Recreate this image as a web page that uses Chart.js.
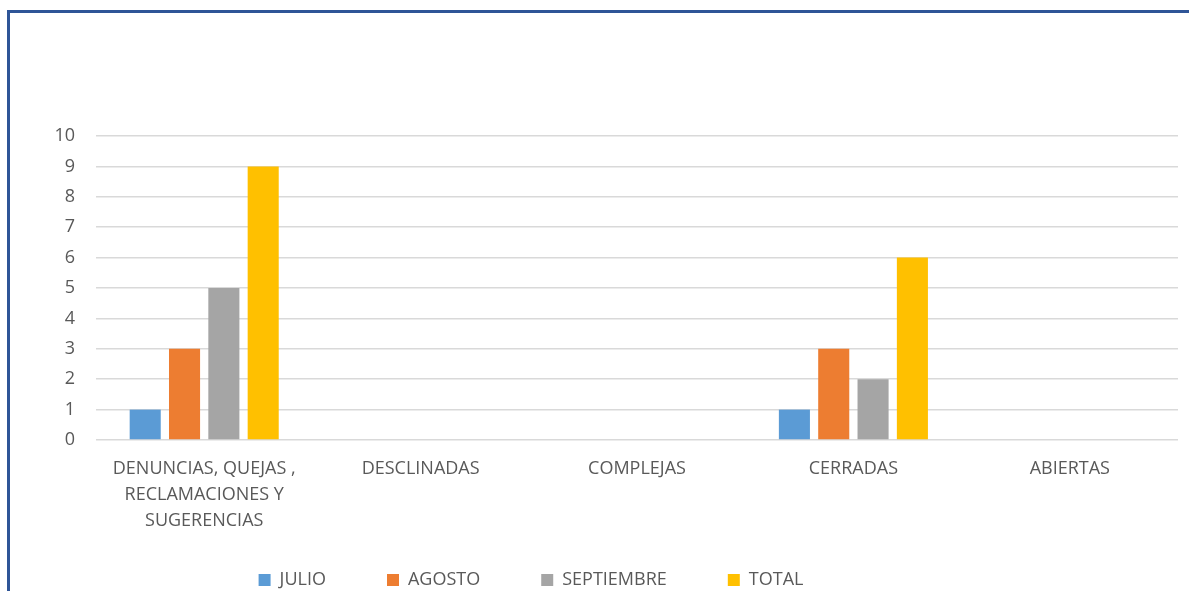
<!DOCTYPE html>
<html>
<head>
<meta charset="utf-8">
<script src="https://cdn.jsdelivr.net/npm/chart.js@4"></script>
<style>
    html, body { margin: 0; padding: 0; background: #ffffff; }
    body { width: 1189px; height: 591px; position: relative; overflow: hidden; }
    #marco {
        position: absolute; left: 7px; top: 10px; right: -10px; bottom: -10px;
        border-top: 3px solid #2F5597; border-left: 3px solid #2F5597;
    }
    #contenedor { position: absolute; left: 0; top: 0; width: 1189px; height: 591px; }
</style>
</head>
<body>
<div id="marco"></div>
<div id="contenedor"><canvas id="grafica"></canvas></div>
<script>
// Datos de la gráfica
var categorias = [
    ['DENUNCIAS, QUEJAS ,', 'RECLAMACIONES Y', 'SUGERENCIAS'],
    'DESCLINADAS',
    'COMPLEJAS',
    'CERRADAS',
    'ABIERTAS'
];
var julio = [1, 0, 0, 1, 0];
var agosto = [3, 0, 0, 3, 0];
var septiembre = [5, 0, 0, 2, 0];
var total = [9, 0, 0, 6, 0];
var ticksY = [0, 1, 2, 3, 4, 5, 6, 7, 8, 9, 10];

var colorTexto = '#595959';
var fuente = { family: "'Open Sans', sans-serif", size: 18 };

function serie(label, data, color) {
    return {
        label: label,
        data: data,
        backgroundColor: color,
        borderWidth: 0,
        categoryPercentage: 0.727,
        barPercentage: 0.79
    };
}

// Ajuste de la leyenda: alto fijo, subida y desplazada a la izquierda como en el original
var ajusteLeyenda = {
    id: 'ajusteLeyenda',
    beforeLayout: function (chart) {
        var leyenda = chart.legend;
        if (leyenda && !leyenda._ajustada) {
            var fitOriginal = leyenda.fit;
            leyenda.fit = function () {
                fitOriginal.call(this);
                this.height = 57;
            };
            leyenda._ajustada = true;
        }
    },
    afterLayout: function (chart) {
        chart.legend.left -= 116;
        chart.legend.top -= 24;
    }
};

var ctx = document.getElementById('grafica').getContext('2d');
var grafica = new Chart(ctx, {
    type: 'bar',
    data: {
        labels: categorias,
        datasets: [
            serie('JULIO', julio, '#5B9BD5'),
            serie('AGOSTO', agosto, '#ED7D31'),
            serie('SEPTIEMBRE', septiembre, '#A5A5A5'),
            serie('TOTAL', total, '#FFC000')
        ]
    },
    options: {
        responsive: true,
        maintainAspectRatio: false,
        animation: false,
        layout: {
            padding: { left: 0, right: 11, top: 136, bottom: 0 }
        },
        scales: {
            x: {
                grid: { display: false },
                border: { display: false },
                ticks: {
                    color: colorTexto,
                    font: { family: fuente.family, size: 18, lineHeight: 1.44 },
                    maxRotation: 0,
                    autoSkip: false,
                    padding: 8
                },
                afterFit: function (scale) { scale.height = 94; }
            },
            y: {
                min: 0,
                max: 10,
                afterBuildTicks: function (scale) {
                    scale.ticks = ticksY.map(function (v) { return { value: v }; });
                },
                grid: { color: '#D9D9D9', lineWidth: 1.5, drawTicks: false },
                border: { display: false },
                ticks: {
                    color: colorTexto,
                    font: fuente,
                    padding: 21
                },
                afterFit: function (scale) { scale.width = 96; }
            }
        },
        plugins: {
            legend: {
                position: 'bottom',
                labels: {
                    color: colorTexto,
                    font: fuente,
                    boxWidth: 12,
                    boxHeight: 12,
                    padding: 61
                }
            },
            tooltip: { enabled: false }
        }
    },
    plugins: [ajusteLeyenda]
});
</script>
</body>
</html>
